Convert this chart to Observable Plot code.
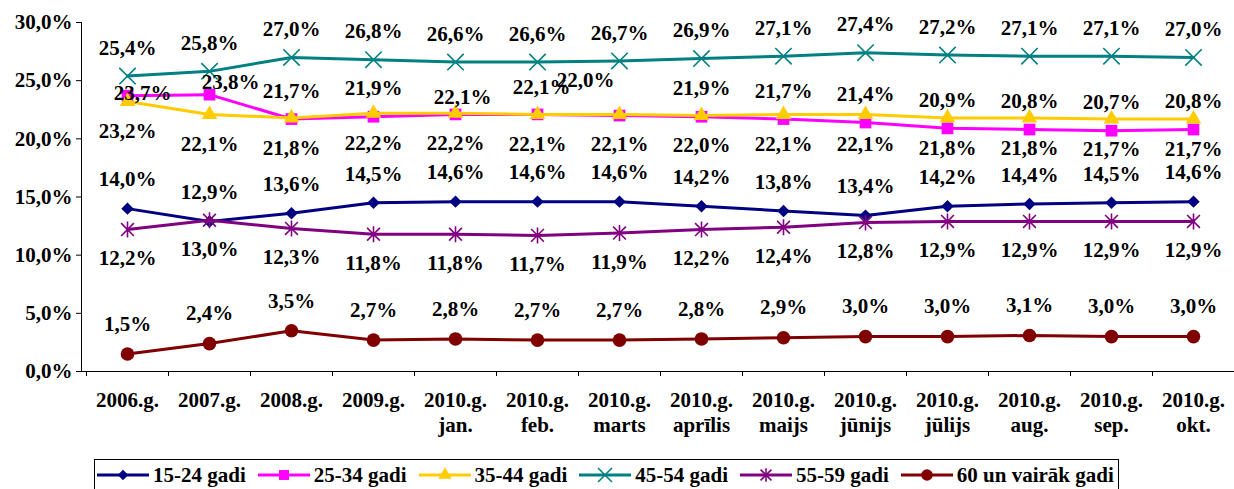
<!DOCTYPE html>
<html><head><meta charset="utf-8">
<script src="https://cdn.jsdelivr.net/npm/d3@7"></script>
<script src="https://cdn.jsdelivr.net/npm/@observablehq/plot@0.6"></script>
<style>
body{margin:0;background:#fff;font-family:"Liberation Serif","Times New Roman","DejaVu Serif",serif;}
#wrap{position:relative;width:1234px;height:489px;overflow:hidden;background:#fff;}
#legend{position:absolute;left:94px;top:459px;width:1025px;height:44px;border:1px solid #000;box-sizing:border-box;display:flex;align-items:center;padding:0 0 12px 2px;font-weight:bold;font-size:21px;color:#000;}
#legend .item{display:flex;align-items:center;margin-right:12px;white-space:nowrap;}
#legend svg{margin-right:4px;}
</style></head>
<body><div id="wrap"></div>
<script>
const categories = ["2006.g.","2007.g.","2008.g.","2009.g.","2010.g.\njan.","2010.g.\nfeb.","2010.g.\nmarts","2010.g.\naprīlis","2010.g.\nmaijs","2010.g.\njūnijs","2010.g.\njūlijs","2010.g.\naug.","2010.g.\nsep.","2010.g.\nokt."];
const seriesNames = ["15-24 gadi","25-34 gadi","35-44 gadi","45-54 gadi","55-59 gadi","60 un vairāk gadi"];
const v15_24 = [14.0,12.9,13.6,14.5,14.6,14.6,14.6,14.2,13.8,13.4,14.2,14.4,14.5,14.6];
const v25_34 = [23.7,23.8,21.7,21.9,22.1,22.1,22.0,21.9,21.7,21.4,20.9,20.8,20.7,20.8];
const v35_44 = [23.2,22.1,21.8,22.2,22.2,22.1,22.1,22.0,22.1,22.1,21.8,21.8,21.7,21.7];
const v45_54 = [25.4,25.8,27.0,26.8,26.6,26.6,26.7,26.9,27.1,27.4,27.2,27.1,27.1,27.0];
const v55_59 = [12.2,13.0,12.3,11.8,11.8,11.7,11.9,12.2,12.4,12.8,12.9,12.9,12.9,12.9];
const v60plus = [1.5,2.4,3.5,2.7,2.8,2.7,2.7,2.8,2.9,3.0,3.0,3.1,3.0,3.0];
const yTicks = [0,5,10,15,20,25,30];

const values = [v15_24, v25_34, v35_44, v45_54, v55_59, v60plus];
const fmt = v => v.toFixed(1).replace(".", ",") + "%";
const FONT = "'Liberation Serif', 'Times New Roman', 'DejaVu Serif', serif";
const FS = 21;

const starSymbol = {
  draw(context, size) {
    const r = Math.sqrt(size / Math.PI);
    const d = r * 0.8;
    context.moveTo(0, -r); context.lineTo(0, r);
    context.moveTo(-d, -d); context.lineTo(d, d);
    context.moveTo(-d, d); context.lineTo(d, -d);
  }
};

const styles = [
  {color:"#000080", symbol:"diamond2", d3sym:d3.symbolDiamond2, r:5.6, filled:true, dy:-29},
  {color:"#FF00FF", symbol:"square", d3sym:d3.symbolSquare, r:6.6, filled:true, dy:-28},
  {color:"#FFCC00", symbol:"triangle", d3sym:d3.symbolTriangle, r:5.8, filled:true, dy:30},
  {color:"#008080", symbol:"times", d3sym:d3.symbolTimes, r:7.5, filled:false, dy:-28},
  {color:"#800080", symbol:starSymbol, d3sym:starSymbol, r:8, filled:false, dy:29},
  {color:"#800000", symbol:"circle", d3sym:d3.symbolCircle, r:6.8, filled:true, dy:-30}
];
// manual nudges of some 25-34 labels (as in the original), [dx, dy]
const magentaNudges = {0:[15,-3], 1:[21,-12], 4:[7,-17], 5:[4,-27], 6:[-34,-35]};

const font = {fontFamily: FONT, fontWeight:"bold", fontSize:FS, fill:"#000"};

const lineMarks = [], labelMarks = [];
values.forEach((vals, k) => {
  const s = styles[k];
  const data = vals.map((v, i) => ({x: categories[i], y: v, i}));
  lineMarks.push(Plot.line(data, {x:"x", y:"y", stroke:s.color, strokeWidth:3}));
  lineMarks.push(Plot.dot(data, {x:"x", y:"y", symbol:s.symbol, r:s.r,
    fill: s.filled ? s.color : "none", stroke: s.filled ? "none" : s.color, strokeWidth: s.filled ? 0 : 1.6}));
  if (k === 1) {
    labelMarks.push(Plot.text(data.filter(d => !magentaNudges[d.i]), {x:"x", y:"y", text: d => fmt(d.y), dy: s.dy, ...font}));
    for (const key of Object.keys(magentaNudges)) {
      const [dx, dy] = magentaNudges[key];
      labelMarks.push(Plot.text(data.filter(d => d.i === +key), {x:"x", y:"y", text: d => fmt(d.y), dx, dy, ...font}));
    }
  } else {
    labelMarks.push(Plot.text(data, {x:"x", y:"y", text: d => fmt(d.y), dy: s.dy, ...font}));
  }
});

const chart = Plot.plot({
  width: 1234, height: 452,
  marginLeft: 81, marginRight: 0, marginTop: 22, marginBottom: 81,
  style: {fontFamily: FONT, fontWeight: "bold", fontSize: FS + "px", color: "#000", background: "#fff", overflow: "visible"},
  x: {type: "point", domain: categories, range: [81, 1238], padding: 0.5},
  y: {domain: [0, 30], range: [371, 22]},
  marks: [
    Plot.ruleY([0], {stroke: "#000", strokeWidth: 1}),
    Plot.axisY({ticks: yTicks, tickFormat: fmt, tickSize: 5, tickPadding: 4, label: null, fontSize: FS, fontWeight: "bold", fontFamily: FONT}),
    Plot.axisX({tickSize: 0, tickPadding: 17, label: null, fontSize: FS, fontWeight: "bold", fontFamily: FONT, lineHeight: 1.22}),
    ...lineMarks,
    ...labelMarks
  ]
});

// y axis line and x category boundary ticks, from the plot's own scales
const xs = chart.scale("x"), ys = chart.scale("y");
const step = xs.apply(categories[1]) - xs.apply(categories[0]);
const svg = d3.select(chart);
const g = svg.append("g").attr("stroke", "#000").attr("stroke-width", 1);
g.append("line").attr("x1", 81.5).attr("x2", 81.5).attr("y1", ys.apply(0)).attr("y2", ys.apply(30));
for (let i = 0; i <= categories.length; i++) {
  const bx = Math.round(xs.apply(categories[0]) - step / 2 + i * step) + 0.5;
  g.append("line").attr("x1", bx).attr("x2", bx).attr("y1", ys.apply(0)).attr("y2", ys.apply(0) + 5);
}

const wrap = document.getElementById("wrap");
wrap.appendChild(chart);

// legend
const legend = document.createElement("div");
legend.id = "legend";
seriesNames.forEach((name, k) => {
  const s = styles[k];
  const item = document.createElement("div");
  item.className = "item";
  const sw = d3.create("svg").attr("width", 52).attr("height", 20);
  sw.append("line").attr("x1", 0).attr("x2", 52).attr("y1", 10).attr("y2", 10).attr("stroke", s.color).attr("stroke-width", 3);
  const rr = s.r * 0.85;
  sw.append("path").attr("transform", "translate(26,10)")
    .attr("d", d3.symbol(s.d3sym, Math.PI * rr * rr)())
    .attr("fill", s.filled ? s.color : "none")
    .attr("stroke", s.filled ? "none" : s.color)
    .attr("stroke-width", 1.6);
  item.appendChild(sw.node());
  const t = document.createElement("span");
  t.textContent = name;
  item.appendChild(t);
  legend.appendChild(item);
});
wrap.appendChild(legend);
</script>
</body></html>
